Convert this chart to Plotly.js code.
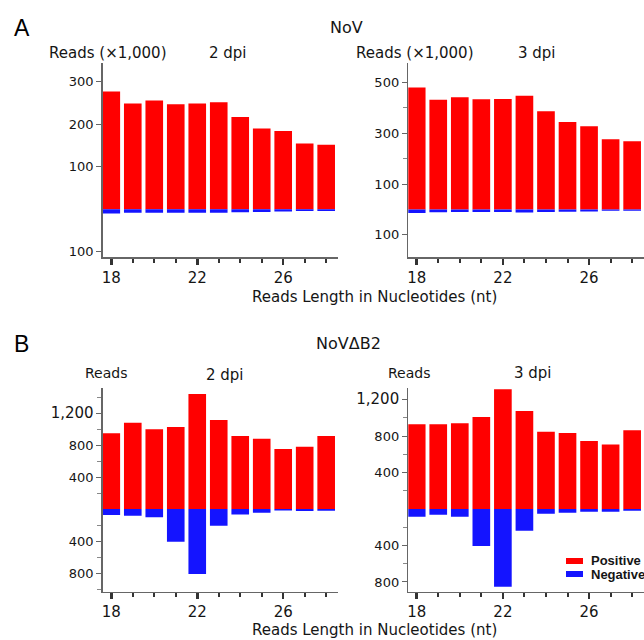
<!DOCTYPE html>
<html>
<head>
<meta charset="utf-8">
<script src="https://cdn.plot.ly/plotly-3.0.1.min.js"></script>
<style>html,body{margin:0;padding:0;background:#fff;}#chart{width:644px;height:640px;}</style>
</head>
<body>
<div id="chart"></div>
<script>
// Read lengths (nt)
const lengths = [18, 19, 20, 21, 22, 23, 24, 25, 26, 27, 28];

// Panel A: NoV, reads (x1,000)
const novDpi2Pos = [277, 249, 256, 247, 249, 252, 217, 190, 184, 155, 152];
const novDpi2Neg = [10, 8, 8, 8, 8, 8, 7, 6, 5, 4, 4];
const novDpi3Pos = [480, 431, 441, 433, 434, 447, 386, 344, 327, 276, 268];
const novDpi3Neg = [14, 11, 10, 10, 10, 12, 10, 9, 8, 5, 5];

// Panel B: NoVΔB2, reads
const b2Dpi2Pos = [946, 1079, 996, 1025, 1437, 1112, 912, 879, 750, 779, 912];
const b2Dpi2Neg = [75, 83, 104, 408, 812, 208, 67, 46, 17, 25, 21];
const b2Dpi3Pos = [929, 929, 940, 1009, 1313, 1075, 848, 834, 746, 709, 863];
const b2Dpi3Neg = [84, 62, 84, 406, 852, 238, 51, 40, 29, 29, 18];

const seriesNames = ['Positive', 'Negative'];

const RED = '#ff0000', BLUE = '#1414ff';
const FONT = 'DejaVu Sans, Verdana, sans-serif';
const TXT = '#151515';

function pair(pos, neg, xa, ya) {
  return [
    {type:'bar', x:lengths, y:pos, xaxis:xa, yaxis:ya, name:seriesNames[0],
     marker:{color:RED, line:{width:0}}, showlegend:false},
    {type:'bar', x:lengths, y:neg.map(v => -v), xaxis:xa, yaxis:ya, name:seriesNames[1],
     marker:{color:BLUE, line:{width:0}}, showlegend:false}
  ];
}

const data = [].concat(
  pair(novDpi2Pos, novDpi2Neg, 'x', 'y'),
  pair(novDpi3Pos, novDpi3Neg, 'x2', 'y2'),
  pair(b2Dpi2Pos, b2Dpi2Neg, 'x3', 'y3'),
  pair(b2Dpi3Pos, b2Dpi3Neg, 'x4', 'y4')
);

const W = 644, H = 640;
const px = v => v / W, py = v => 1 - v / H;

function xax(left, right, anchor, range) {
  return {
    domain:[px(left), px(right)], anchor:anchor, range:range,
    showline:true, linecolor:'#666', linewidth:1.5,
    showgrid:false, zeroline:false,
    tickmode:'array', tickvals:[18, 22, 26],
    ticks:'outside', ticklen:6, tickwidth:2.5, tickcolor:'#333',
    tickfont:{family:FONT, size:15, color:TXT},
    minor:{tickmode:'linear', tick0:0, dtick:1, ticks:'outside', ticklen:4, tickwidth:2, tickcolor:'#333'},
    fixedrange:true
  };
}
function yax(top, bottom, anchor, range, tv, tt, minorVals) {
  return {
    domain:[py(bottom), py(top)], anchor:anchor, range:range,
    showline:true, linecolor:'#666', linewidth:1.5,
    showgrid:false, zeroline:false,
    tickmode:'array', tickvals:tv, ticktext:tt,
    ticks:'outside', ticklen:5, tickwidth:1, tickcolor:'#666',
    tickfont:{family:FONT, size:13, color:TXT},
    minor:{tickmode:'array', tickvals:minorVals, ticks:'outside', ticklen:4, tickwidth:1, tickcolor:'#888'},
    fixedrange:true
  };
}

function ann(text, x, y, xanchor, size, extra) {
  return Object.assign({text:text, x:px(x), y:py(y), xref:'paper', yref:'paper',
    xanchor:xanchor, yanchor:'middle', showarrow:false,
    font:{family:FONT, size:size, color:TXT}}, extra || {});
}
const LEGFONT = {family:'Liberation Sans, Arial, sans-serif', size:13, color:TXT, weight:'bold'};

const layout = {
  width:W, height:H,
  margin:{l:0, r:0, t:0, b:0},
  paper_bgcolor:'#fff', plot_bgcolor:'rgba(0,0,0,0)',
  barmode:'relative', bargap:0.18,
  xaxis: xax(102.7, 338, 'y', [17.6, 28.55]),
  yaxis: yax(63, 257, 'x', [-112, 344], [300, 200, 100, -100], ['300', '200', '100', '100'], []),
  xaxis2: xax(408.3, 644, 'y2', [17.61, 28.55]),
  yaxis2: yax(63, 257, 'x2', [-187, 576], [500, 300, 100, -100], ['500', '300', '100', '100'], [400, 200]),
  xaxis3: xax(102.7, 338, 'y3', [17.6, 28.55]),
  yaxis3: yax(388.3, 591.7, 'x3', [-1033, 1509], [1200, 800, 400, -400, -800],
              ['<span style="font-size:15px">1,200</span>', '800', '400', '400', '800'],
              [1400, 1000, 600, 200, -200, -600, -1000]),
  xaxis4: xax(408.3, 644, 'y4', [17.61, 28.55]),
  yaxis4: yax(387.7, 591.7, 'x4', [-907, 1331], [1200, 800, 400, -400, -800],
              ['<span style="font-size:15px">1,200</span>', '800', '400', '400', '800'],
              [1000, 600, 200, -200, -600]),
  showlegend:false,
  shapes:[
    {type:'rect', xref:'paper', yref:'paper', x0:px(566), x1:px(583), y0:py(564), y1:py(558),
     fillcolor:RED, line:{width:0}},
    {type:'rect', xref:'paper', yref:'paper', x0:px(566), x1:px(583), y0:py(577), y1:py(571),
     fillcolor:BLUE, line:{width:0}}
  ],
  annotations:[
    ann('A', 12, 28, 'left', 22, {font:{family:'Liberation Sans, Arial, sans-serif', size:23, color:'#000'}}),
    ann('NoV', 346, 27, 'center', 16),
    ann('B', 12, 344, 'left', 22, {font:{family:'Liberation Sans, Arial, sans-serif', size:23, color:'#000'}}),
    ann('NoVΔB2', 348, 343, 'center', 16),
    ann('Reads (×1,000)', 47, 53, 'left', 15),
    ann('2 dpi', 228, 53, 'center', 15),
    ann('Reads (×1,000)', 354, 53, 'left', 15),
    ann('3 dpi', 537, 53, 'center', 15),
    ann('Reads', 83, 373, 'left', 14),
    ann('2 dpi', 225, 375, 'center', 15),
    ann('Reads', 386, 373, 'left', 14),
    ann('3 dpi', 533, 373, 'center', 15),
    ann('Reads Length in Nucleotides (nt)', 250, 297, 'left', 15),
    ann('Reads Length in Nucleotides (nt)', 250, 630, 'left', 15),
    ann(seriesNames[0], 589, 560, 'left', 13, {font:LEGFONT}),
    ann(seriesNames[1], 589, 574, 'left', 13, {font:LEGFONT})
  ]
};

Plotly.newPlot('chart', data, layout, {displayModeBar:false, staticPlot:true});
</script>
</body>
</html>
